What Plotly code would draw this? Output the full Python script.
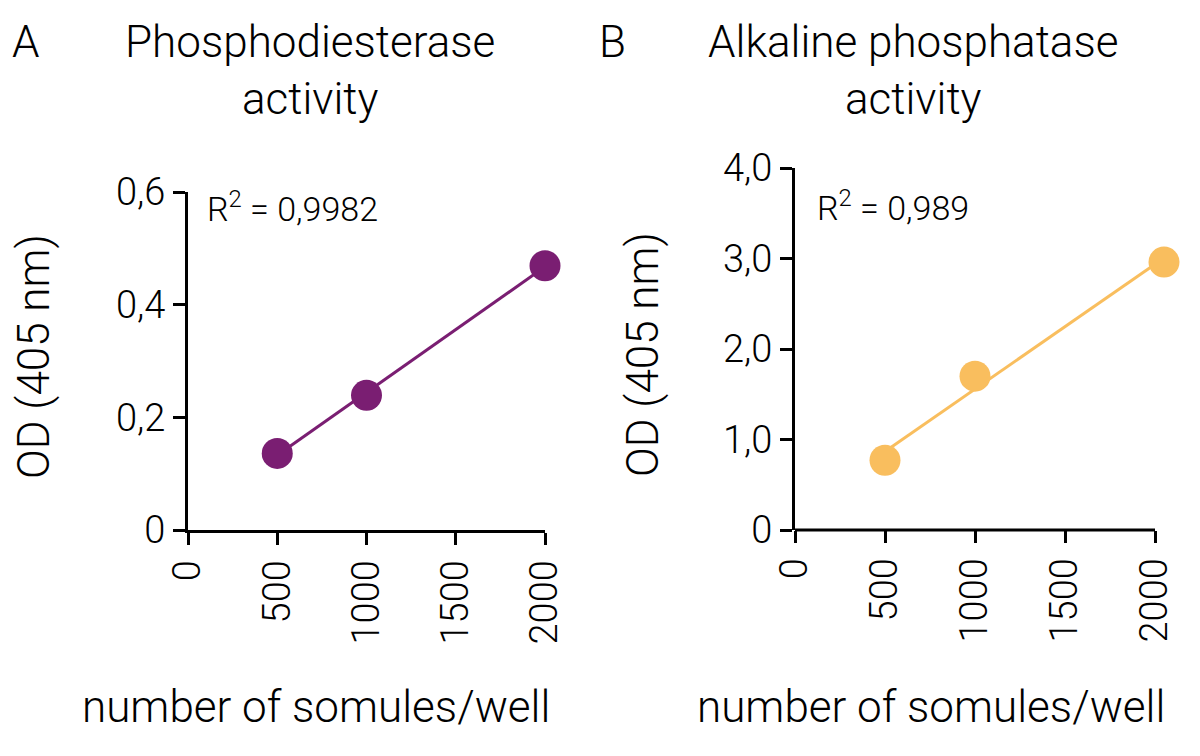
import numpy as np
import plotly.graph_objects as go

# ---- data ----
pde_cells = [500, 1000, 2000]
pde_od = [0.136, 0.239, 0.469]
alp_cells = [500, 1000, 2050]
alp_od = [0.77, 1.70, 2.96]

x_ticks = [0, 500, 1000, 1500, 2000]
pde_yticks = [0, 0.2, 0.4, 0.6]
pde_ylabels = ["0", "0,2", "0,4", "0,6"]
alp_yticks = [0, 1, 2, 3, 4]
alp_ylabels = ["0", "1,0", "2,0", "3,0", "4,0"]

PURPLE = "#7A1E72"
ORANGE = "#F9BE5E"
FONT = "Roboto"

# page body margin offsets the figure by 8px; work in reference pixel coords
OFF = 8
W, H = 1200 - OFF, 756 - OFF

def px(x):
    return (x - OFF) / W

def py(y):
    return 1 - (y - OFF) / H

def fit_line(x, y):
    m, b = np.polyfit(x, y, 1)
    xs = np.array([min(x), max(x)])
    return xs, m * xs + b

fig = go.Figure()

for i, (xv, yv, col) in enumerate([(pde_cells, pde_od, PURPLE), (alp_cells, alp_od, ORANGE)]):
    xa = "x" if i == 0 else "x2"
    ya = "y" if i == 0 else "y2"
    lx, ly = fit_line(xv, yv)
    fig.add_trace(go.Scatter(x=lx, y=ly, mode="lines", line=dict(color=col, width=3),
                             xaxis=xa, yaxis=ya, showlegend=False, hoverinfo="skip"))
    fig.add_trace(go.Scatter(x=xv, y=yv, mode="markers", marker=dict(color=col, size=31, line=dict(width=0)),
                             xaxis=xa, yaxis=ya, showlegend=False, cliponaxis=False))

axis_common = dict(showgrid=False, zeroline=False, linecolor="black", linewidth=3,
                   ticks="outside", ticklen=12, tickwidth=3, tickcolor="black", automargin=False,
                   tickfont=dict(family=FONT, size=38, color="black", weight=300))

# panel B x-range extended slightly so the last point (beyond 2000) is shown
b_xmax = 2060
b_right = 795 + (1155 - 795) * b_xmax / 2000

fig.update_layout(
    width=W, height=H,
    margin=dict(l=0, r=0, t=0, b=0, autoexpand=False),
    paper_bgcolor="white", plot_bgcolor="white",
    font=dict(family=FONT, color="black", weight=300),
    xaxis=dict(domain=[px(188), px(545)], range=[0, 2000], tickvals=x_ticks, tickangle=-90,
               showline=True, anchor="y", **axis_common),
    yaxis=dict(domain=[py(530), py(192)], range=[0, 0.6], tickvals=pde_yticks, ticktext=pde_ylabels,
               showline=True, anchor="x", **axis_common),
    xaxis2=dict(domain=[px(795), px(b_right)], range=[0, b_xmax], tickvals=x_ticks, tickangle=-90,
                showline=False, anchor="y2", **axis_common),
    yaxis2=dict(domain=[py(530), py(168)], range=[0, 4], tickvals=alp_yticks, ticktext=alp_ylabels,
                showline=True, anchor="x2", **axis_common),
)

# x-axis line of panel B from first to last tick
fig.add_shape(type="line", xref="x2", yref="y2 domain", x0=x_ticks[0], x1=x_ticks[-1], y0=0, y1=0,
              line=dict(color="black", width=3), layer="above")

big = dict(family=FONT, size=44, color="black", weight=300)
def ann(text, x, y, font=big, xanchor="center", angle=0):
    fig.add_annotation(text=text, x=px(x), y=py(y), xref="paper", yref="paper", xanchor=xanchor,
                       yanchor="middle", showarrow=False, font=font, textangle=angle)

ann("A", 10, 42, xanchor="left")
ann("Phosphodiesterase<br>activity", 310, 70)
ann("B", 597, 42, xanchor="left")
ann("Alkaline phosphatase<br>activity", 913, 70)

ann("OD (405 nm)", 34, 357, angle=-90)
ann("OD (405 nm)", 643, 355, angle=-90)

ann("number of somules/well", 316, 707)
ann("number of somules/well", 931, 707)

r2_font = dict(family=FONT, size=34, color="black", weight=300)
ann("R<sup>2</sup> = 0,9982", 205, 207, font=r2_font, xanchor="left")
ann("R<sup>2</sup> = 0,989", 815, 206, font=r2_font, xanchor="left")

fig.write_html("out.html")
